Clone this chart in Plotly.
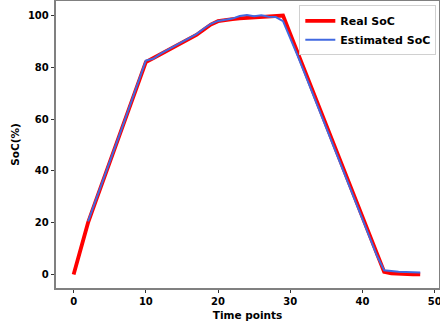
import plotly.graph_objects as go

t = list(range(49))
real_soc = [0, 10, 20, 27.8, 35.5, 43.3, 51, 58.8, 66.5, 74.3, 82,
            83.5, 85, 86.5, 88, 89.5, 91, 92.5, 94.5, 96.5, 97.8,
            98.3, 98.6, 98.9, 99.1, 99.3, 99.5, 99.7, 99.9, 100,
            92.9, 85.9, 78.8, 71.7, 64.6, 57.6, 50.5, 43.4, 36.4, 29.3,
            22.2, 15.1, 8.1, 1.0, 0.4, 0.2, 0.1, 0.05, 0.0]
est_t = list(range(2, 49))
est_soc = [20.5, 28.0, 35.7, 43.5, 51.2, 58.9, 66.6, 74.4, 82.6,
           83.3, 85.2, 86.7, 88.2, 89.6, 91.2, 92.8, 94.9, 96.8, 97.9,
           98.4, 98.8, 99.8, 100.2, 99.7, 100.1, 99.5, 99.4, 97.8,
           91.5, 84.6, 77.6, 70.5, 63.5, 56.4, 49.4, 42.3, 35.3, 28.2,
           21.2, 14.2, 7.3, 1.6, 1.2, 1.0, 0.9, 0.8, 0.7]

fig = go.Figure()
fig.add_trace(go.Scatter(x=t, y=real_soc, mode="lines", name="Real SoC",
                         line=dict(color="#ff0000", width=3.8)))
fig.add_trace(go.Scatter(x=est_t, y=est_soc, mode="lines", name="Estimated SoC",
                         line=dict(color="#4169e1", width=2)))

font = dict(family="DejaVu Sans", size=10, color="black")
axis_common = dict(showline=True, linecolor="#808080", linewidth=1.5, mirror=True,
                   ticks="outside", ticklen=3.5, tickwidth=1, tickcolor="#333333",
                   showgrid=False, zeroline=False, ticklabeloverflow="allow",
                   automargin=False,
                   tickfont=dict(family="DejaVu Sans", size=10, color="black", weight="bold"))
fig.update_layout(
    width=440, height=326,
    margin=dict(l=56, r=1, t=1, b=38),
    plot_bgcolor="white", paper_bgcolor="white",
    font=font,
    xaxis=dict(range=[-2.44, 50.6], tickvals=[0, 10, 20, 30, 40, 50],
               title=dict(text="Time points", standoff=5,
                          font=dict(family="DejaVu Sans", size=10.5, color="black", weight="bold")),
               **axis_common),
    yaxis=dict(range=[-5.25, 105.6], tickvals=[0, 20, 40, 60, 80, 100],
               title=dict(text="SoC(%)", standoff=6,
                          font=dict(family="DejaVu Sans", size=10.5, color="black", weight="bold")),
               **axis_common),
    legend=dict(x=0.993, y=0.985, xanchor="right", yanchor="top",
                bgcolor="rgba(255,255,255,0.85)", bordercolor="#d0d0d0", borderwidth=1,
                font=dict(family="DejaVu Sans", size=11, color="black", weight="bold"),
                itemwidth=30, tracegroupgap=0),
    showlegend=True,
)
fig.write_html("out.html")
